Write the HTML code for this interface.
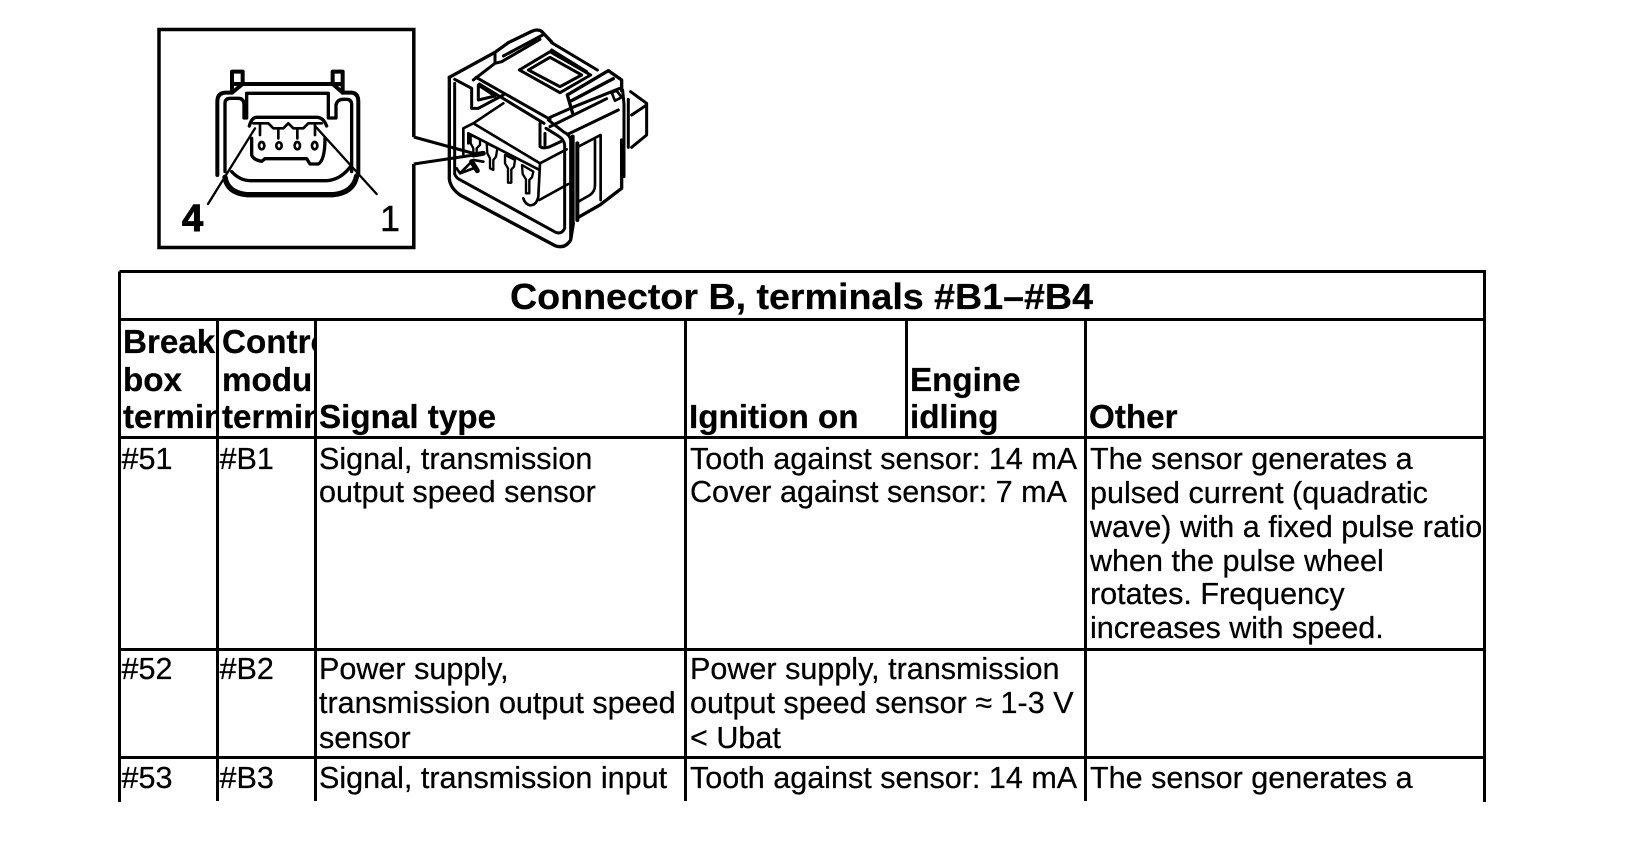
<!DOCTYPE html>
<html><head><meta charset="utf-8"><style>
html,body{margin:0;padding:0;background:#fff;width:1632px;height:852px;overflow:hidden}
svg{display:block}
text{font-family:"Liberation Sans",Arial,sans-serif;fill:#000;stroke:#000}
.b{font-weight:bold;font-size:33.2px;stroke-width:.25}
.t{font-weight:bold;font-size:36.5px;stroke-width:.25}
.n{font-size:30.55px;stroke-width:.25}
.l{stroke:#000;stroke-width:3;fill:none}
.d path,.d ellipse{fill:none;stroke:#000;stroke-linejoin:round;stroke-linecap:round}
</style></head><body>
<svg width="1632" height="852" viewBox="0 0 1632 852" xmlns="http://www.w3.org/2000/svg">
<defs>
<clipPath id="c1"><rect x="120" y="320" width="96" height="117"/></clipPath>
<clipPath id="c2"><rect x="219" y="320" width="95" height="117"/></clipPath>
</defs>
<rect width="1632" height="852" fill="#fff"/>

<!-- inset box -->
<path d="M413.8,137 V29.5 H159 V247.5 H413.8 V164" fill="none" stroke="#000" stroke-width="3.5"/>
<path d="M413.8,137 L472,153 M413.8,164 L474,155" fill="none" stroke="#000" stroke-width="3"/>

<!-- left connector -->
<g class="d" transform="translate(210,60) scale(.3333)">
<path stroke-width="12" d="M66,98 V35 H98 V68 M368,68 V35 H398 V98 M72,72 H392 M98,72 L66,98 M368,72 L398,98"/>
<path stroke-width="12" d="M66,98 H45 Q22,100 22,125 V345 M398,98 H425 Q445,100 445,125 V340"/>
<path stroke-width="10" d="M45,335 V130 Q45,115 62,115 H85 Q102,115 102,135 V174 M102,174 H110 V100 H355 V174 H378 V135 Q382,118 400,118 H410 Q425,118 425,135 V335"/>
<path stroke-width="16" d="M45,352 Q52,398 110,404 H370 Q430,398 440,348"/>
<path stroke-width="10" d="M65,335 Q90,362 120,362 H350 Q390,360 420,322"/>
<path stroke-width="10" d="M118,198 Q125,172 140,172 H320 Q340,172 350,198"/>
<path stroke-width="8" d="M130,190 H175 L190,205 H220 L235,190 L250,205 H280 L295,190 H335 M150,195 V225 M205,205 V235 M262,205 V235 M315,195 V225"/>
<path stroke-width="10" d="M125,235 V285 Q130,300 155,304 L165,296 H290 L300,312 H325 Q345,300 345,235"/>
<ellipse stroke-width="8" cx="155" cy="257" rx="8" ry="11"/>
<ellipse stroke-width="8" cx="207" cy="257" rx="8" ry="10"/>
<ellipse stroke-width="8" cx="262" cy="257" rx="8" ry="11"/>
<ellipse stroke-width="8" cx="314" cy="257" rx="8" ry="11"/>
<path stroke-width="7" d="M135,205 L-6,432 M315,198 L500,402"/>
</g>
<text x="182" y="231" style="font-size:38px;font-weight:bold">4</text>
<text x="380" y="231" style="font-size:36px;stroke-width:.4">1</text>

<!-- right connector -->
<g class="d" transform="translate(440,20) scale(.3333)">
<path stroke-width="10" d="M28,172 V478 Q32,505 60,525 L345,677 Q375,688 392,660 L400,610"/>
<path stroke-width="9" d="M44,190 V462 Q48,475 65,482 L345,636 Q365,645 374,625 V375 Q372,358 355,348 L318,325"/>
<path stroke-width="9" d="M392,655 V360 Q390,345 370,335 L325,300"/>
<path stroke-width="10" d="M28,172 L165,97 L205,68 L275,34 Q292,26 305,34 L335,66"/>
<path stroke-width="9" d="M44,178 L95,205 V265 H115 L190,225 M115,195 V240 L165,228 Z"/>
<path stroke-width="9" d="M100,180 L165,130 L185,125 L300,58 M165,97 V130 M190,108 L308,45"/>
<path stroke-width="9" d="M108,172 L330,298 M118,192 L312,310 M335,68 L472,150 M335,90 L440,155"/>
<path stroke-width="9" d="M238,150 L330,95 L452,165 L360,218 Z M265,150 L330,112 L425,165 L360,200 Z"/>
<path stroke-width="10" d="M382,225 L505,152 L545,180 V212 M395,242 L520,176 M382,225 L398,280"/>
<path stroke-width="9" d="M330,292 L398,262 L540,205 M330,320 L500,236 M385,342 L535,270"/>
<path stroke-width="8" d="M515,218 L530,212 L545,232 L525,242 Z"/>
<path stroke-width="9" d="M548,210 L552,252 V470 M565,238 V382 M572,215 L620,250 V345 L575,382 M620,255 L575,285"/>
<path stroke-width="10" d="M545,360 V505 L480,555 L415,592"/>
<path stroke-width="8" d="M70,325 L100,310 L190,250 M70,325 V402 M85,340 V370 M85,340 L295,448 M100,310 L300,430 L295,530 Q290,556 270,556 Q255,552 250,535 M300,430 L380,388 M298,540 L385,492"/>
<path stroke-width="7" d="M92,345 L120,358 V375 L110,385 V402 H100 V385 L92,370 Z M140,370 L172,385 L168,410 L160,420 V450 L150,445 V415 L142,400 Z M195,405 L225,420 L222,440 L214,448 V488 H204 V445 L195,430 Z M246,435 L280,455 L276,472 L268,480 V520 H258 V478 L248,462 Z"/>
<path stroke-width="9" d="M300,310 V380 Q310,387 330,380 L362,365 M315,340 V375"/>
<path stroke-width="8" d="M415,380 L482,345 V540 M465,360 V495 Q465,515 450,525 L415,545"/>
<path stroke-width="12" d="M398,350 V605 M412,370 V600"/>
<path stroke-width="8" d="M50,445 L60,460 L100,420 L130,425 M60,460 L100,445"/>
<path stroke-width="15" d="M100,405 L130,400 M95,425 L112,452"/>
</g>

<!-- table grid -->
<path class="l" d="M119.5,271.5 H1484.5 V802 M119.5,271.5 V802 M119.5,319.5 H1484.5 M119.5,437.5 H1484.5 M119.5,649.5 H1484.5 M119.5,757.5 H1484.5"/>
<path class="l" d="M217.5,319.5 V801 M315.5,319.5 V801 M685.5,319.5 V801 M906.5,319.5 V437.5 M1085.5,319.5 V801"/>

<!-- title -->
<text class="t" x="510" y="309" textLength="583" lengthAdjust="spacingAndGlyphs">Connector B, terminals #B1–#B4</text>

<!-- header -->
<g clip-path="url(#c1)">
<text class="b" x="123" y="353">Breakout</text>
<text class="b" x="123" y="391">box</text>
<text class="b" x="123" y="428">terminal</text>
</g>
<g clip-path="url(#c2)">
<text class="b" x="222" y="353">Control</text>
<text class="b" x="222" y="391">module</text>
<text class="b" x="222" y="428">terminal</text>
</g>
<text class="b" x="319" y="428">Signal type</text>
<text class="b" x="689" y="428">Ignition on</text>
<text class="b" x="910" y="391">Engine</text>
<text class="b" x="910" y="428">idling</text>
<text class="b" x="1089" y="428">Other</text>

<!-- row 1 -->
<text class="n" x="121.5" y="469">#51</text>
<text class="n" x="219.5" y="469">#B1</text>
<text class="n" x="319" y="469">Signal, transmission</text>
<text class="n" x="319" y="502">output speed sensor</text>
<text class="n" x="690" y="469">Tooth against sensor: 14 mA</text>
<text class="n" x="690" y="502">Cover against sensor: 7 mA</text>
<text class="n" x="1090" y="469">The sensor generates a</text>
<text class="n" x="1090" y="503">pulsed current (quadratic</text>
<text class="n" x="1090" y="537">wave) with a fixed pulse ratio</text>
<text class="n" x="1090" y="571">when the pulse wheel</text>
<text class="n" x="1090" y="604">rotates. Frequency</text>
<text class="n" x="1090" y="638">increases with speed.</text>

<!-- row 2 -->
<text class="n" x="121.5" y="679">#52</text>
<text class="n" x="219.5" y="679">#B2</text>
<text class="n" x="319" y="679">Power supply,</text>
<text class="n" x="319" y="713">transmission output speed</text>
<text class="n" x="319" y="748">sensor</text>
<text class="n" x="690" y="679">Power supply, transmission</text>
<text class="n" x="690" y="713">output speed sensor ≈ 1-3 V</text>
<text class="n" x="690" y="748">&lt; Ubat</text>

<!-- row 3 -->
<text class="n" x="121.5" y="788">#53</text>
<text class="n" x="219.5" y="788">#B3</text>
<text class="n" x="319" y="788">Signal, transmission input</text>
<text class="n" x="690" y="788">Tooth against sensor: 14 mA</text>
<text class="n" x="1090" y="788">The sensor generates a</text>
</svg>
</body></html>
